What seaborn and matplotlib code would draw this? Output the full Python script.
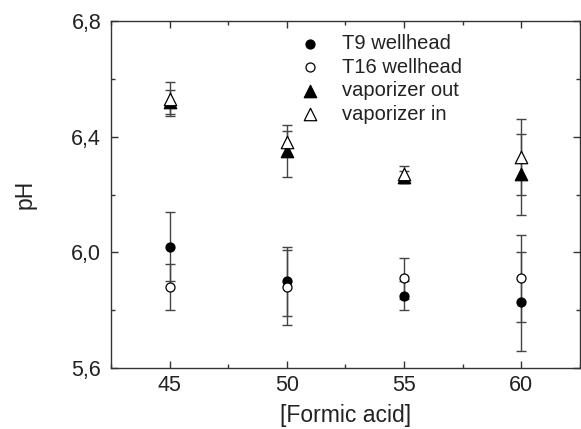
import numpy as np
import pandas as pd
import matplotlib
matplotlib.use("Agg")
import matplotlib.pyplot as plt
import seaborn as sns
from matplotlib.ticker import FixedLocator, FuncFormatter, MultipleLocator

# ---- data ----
formic = [45, 50, 55, 60]
t9_ph = [6.02, 5.90, 5.85, 5.83]
t9_err = [0.12, 0.12, 0.05, 0.17]
t16_ph = [5.88, 5.88, 5.91, 5.91]
t16_err = [0.08, 0.13, 0.07, 0.15]
vout_ph = [6.52, 6.35, 6.26, 6.27]
vout_err = [0.04, 0.09, 0.02, 0.14]
vin_ph = [6.53, 6.38, 6.27, 6.33]
vin_err = [0.06, 0.04, 0.03, 0.13]
series_names = ["T9 wellhead", "T16 wellhead", "vaporizer out", "vaporizer in"]
yticks = [5.6, 6.0, 6.4, 6.8]
xticks = [45, 50, 55, 60]

sns.set_style("ticks")
plt.rcParams['font.family'] = ['Liberation Sans', 'DejaVu Sans']

fig = plt.figure(figsize=(5.81, 4.29), dpi=100)
ax = fig.add_axes([0.191, 0.142, 0.807, 0.809])

styles = [
    dict(marker="o", face="black", size=42),
    dict(marker="o", face="white", size=42),
    dict(marker="^", face="black", size=80),
    dict(marker="^", face="white", size=80),
]
vals = [t9_ph, t16_ph, vout_ph, vin_ph]
errs = [t9_err, t16_err, vout_err, vin_err]

for name, v, e, st in zip(series_names, vals, errs, styles):
    ax.errorbar(formic, v, yerr=e, fmt="none", ecolor="#444444",
                elinewidth=1.0, capsize=3.5, capthick=1.0, zorder=2)
for name, v, e, st in zip(series_names, vals, errs, styles):
    df = pd.DataFrame({"x": formic, "y": v})
    sns.scatterplot(data=df, x="x", y="y", ax=ax, marker=st["marker"],
                    s=st["size"], facecolor=st["face"], edgecolor="black",
                    linewidth=0.9, label=name, zorder=3)

ax.set_xlim(42.5, 62.5)
ax.set_ylim(5.6, 6.8)
ax.xaxis.set_major_locator(FixedLocator(xticks))
ax.xaxis.set_minor_locator(MultipleLocator(2.5))
ax.yaxis.set_major_locator(FixedLocator(yticks))
ax.yaxis.set_minor_locator(MultipleLocator(0.2))
ax.yaxis.set_major_formatter(FuncFormatter(lambda y, p: f"{y:.1f}".replace(".", ",")))
ax.tick_params(which="both", direction="in", top=True, right=True,
               labelsize=15.5, labelcolor="#222222", color="#333333", width=1.0)
ax.tick_params(axis="y", which="major", pad=7)
ax.tick_params(axis="x", which="major", pad=5)
ax.tick_params(which="major", length=5)
ax.tick_params(which="minor", length=3)
for s in ax.spines.values():
    s.set_color("#333333")
    s.set_linewidth(1.0)

ax.set_xlabel("[Formic acid]", fontsize=16.5, color="#222222", labelpad=6)
ax.set_ylabel("pH", fontsize=16.5, color="#222222", labelpad=25)

leg = ax.legend(loc="upper left", bbox_to_anchor=(0.377, 0.985), frameon=False,
                fontsize=14.5, handletextpad=0.9, labelspacing=0.22,
                borderaxespad=0.0, handlelength=1.4)
for t in leg.get_texts():
    t.set_color("#222222")

fig.savefig("out.png", dpi=100)
